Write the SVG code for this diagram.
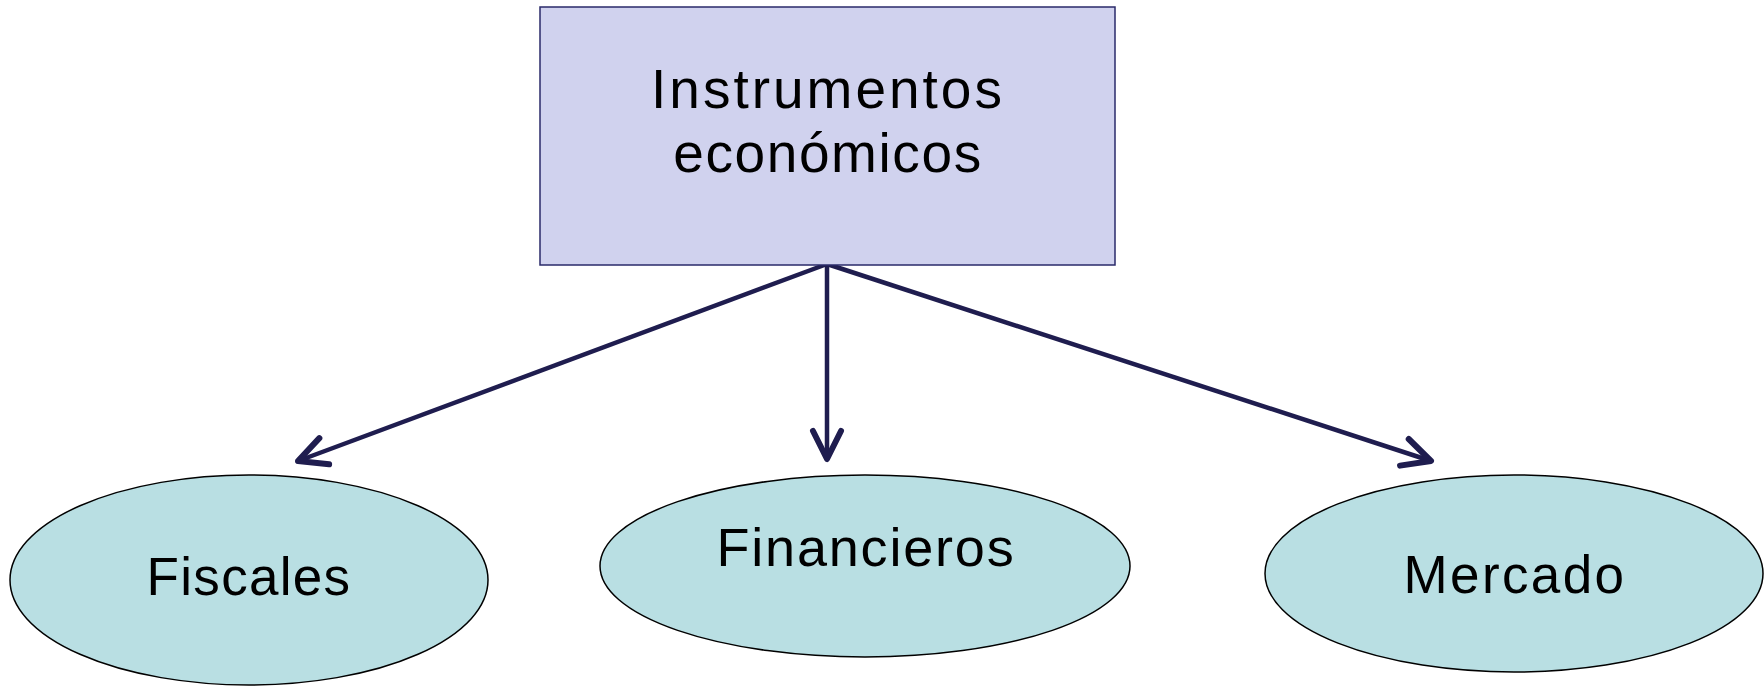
<svg xmlns="http://www.w3.org/2000/svg" width="1764" height="686" viewBox="0 0 1764 686">
<style>
.t{font-family:"Liberation Sans",Arial,sans-serif;fill:#000;text-anchor:middle}
.ell{fill:#B9DFE3;stroke:#000;stroke-width:1.5}
.con{stroke:#1F1D4F;stroke-width:4.5;fill:none}
</style>
<defs>
<marker id="ah" markerUnits="userSpaceOnUse" markerWidth="40" markerHeight="40" viewBox="-25 -15 30 30" refX="0" refY="0" orient="auto">
<path d="M-21,-10.5 L0,0 L-21,10.5" fill="none" stroke="#1F1D4F" stroke-width="4.5" stroke-linecap="round" stroke-linejoin="round"/>
</marker>
</defs>
<rect width="1764" height="686" fill="#fff"/>
<g id="connectors">
<line class="con" x1="827" y1="264" x2="298" y2="461" marker-end="url(#ah)"/>
<line class="con" x1="827" y1="264" x2="827" y2="459" marker-end="url(#ah)"/>
<line class="con" x1="827" y1="264" x2="1431" y2="461" marker-end="url(#ah)"/>
</g>
<g id="instrumentos">
<rect x="540" y="7" width="575" height="258" fill="#D0D2EE" stroke="#2A2A6A" stroke-width="1.5"/>
<text class="t" x="828" y="108" font-size="55" letter-spacing="3">Instrumentos</text>
<text class="t" x="828" y="172" font-size="55" letter-spacing="1.6">económicos</text>
</g>
<g id="fiscales">
<ellipse class="ell" cx="249" cy="580" rx="239" ry="105"/>
<text class="t" x="249" y="595" font-size="53" letter-spacing="1.3">Fiscales</text>
</g>
<g id="financieros">
<ellipse class="ell" cx="865" cy="566" rx="265" ry="91"/>
<text class="t" x="866" y="566" font-size="54" letter-spacing="1.8">Financieros</text>
</g>
<g id="mercado">
<ellipse class="ell" cx="1514" cy="573.5" rx="249" ry="98.5"/>
<text class="t" x="1515" y="593" font-size="53" letter-spacing="2.4">Mercado</text>
</g>
</svg>
